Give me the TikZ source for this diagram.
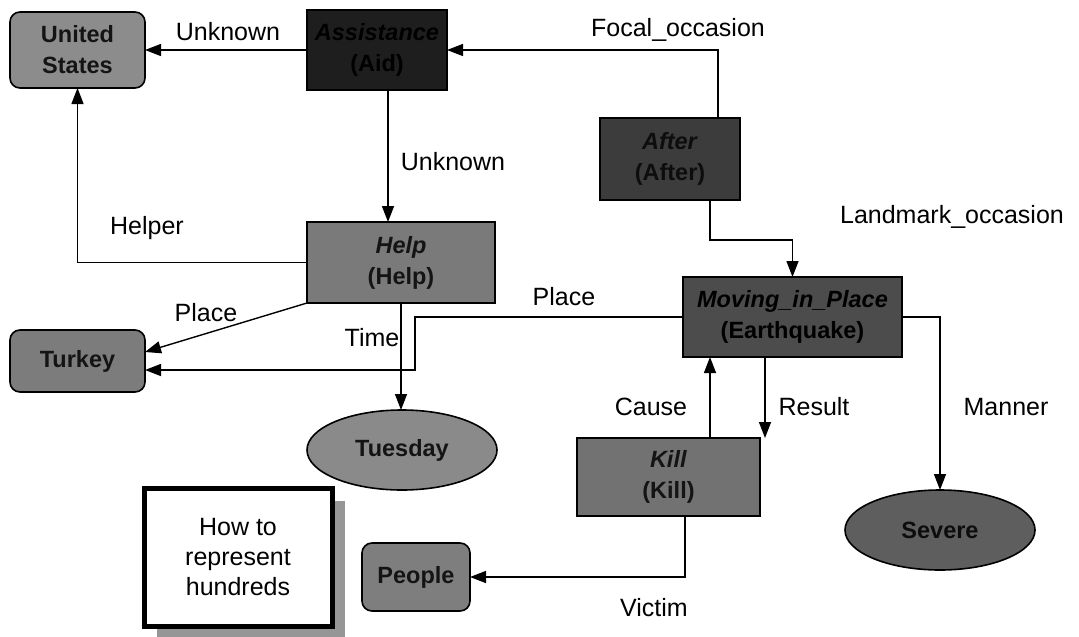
\documentclass[tikz,border=0pt]{standalone}
\usepackage{fontspec}
\setmainfont{Liberation Sans}
\usetikzlibrary{arrows.meta,shapes.geometric,shadows}
\newcommand\myboxfont{\fontsize{23.5}{31}\selectfont\bfseries}
\newcommand\mylblfont{\fontsize{25}{28}\selectfont}
\newcommand\mynotefont{\fontsize{25}{30}\selectfont}
\definecolor{cUS}{HTML}{8C8C8C}
\definecolor{cAssist}{HTML}{1E1E1E}
\definecolor{cAfter}{HTML}{3C3C3C}
\definecolor{cHelp}{HTML}{7A7A7A}
\definecolor{cMoving}{HTML}{4C4C4C}
\definecolor{cKill}{HTML}{727272}
\definecolor{cTurkey}{HTML}{7C7C7C}
\definecolor{cTues}{HTML}{8A8A8A}
\definecolor{cSevere}{HTML}{5E5E5E}
\definecolor{cPeople}{HTML}{7E7E7E}
\definecolor{cShadow}{HTML}{969696}
\tikzset{
  box/.style={draw=black, line width=1.6pt, inner sep=0pt, outer sep=0pt, align=center, font=\myboxfont},
  entity/.style={box, rounded corners=10pt},
  framebox/.style={box},
  valbox/.style={box, ellipse},
  lbl/.style={font=\mylblfont, inner sep=0pt, text=black},
  arr/.style={line width=1.4pt, -{Triangle[length=16pt,width=12pt]}},
}
\begin{document}
\begin{tikzpicture}[x=1pt,y=-1pt]
\useasboundingbox (0,0) rectangle (1079,637);

% nodes
\node[entity, fill=cUS, text=black!92, minimum width=135pt, minimum height=76pt] (us) at (77.5,50) {United\\States};
\node[framebox, fill=cAssist, text=black, minimum width=140pt, minimum height=80pt] (assist) at (377,50) {\textit{Assistance}\\(Aid)};
\node[framebox, fill=cAfter, text=black!95, minimum width=140pt, minimum height=82pt] (after) at (670,159) {\textit{After}\\(After)};
\node[framebox, fill=cHelp, text=black!92, minimum width=188pt, minimum height=81pt] (help) at (401,262.5) {\textit{Help}\\(Help)};
\node[entity, fill=cTurkey, text=black!92, minimum width=135pt, minimum height=62pt] (turkey) at (77.5,361) {Turkey};
\node[framebox, fill=cMoving, text=black, minimum width=219pt, minimum height=80pt] (moving) at (792.5,317) {\textit{Moving\_in\_Place}\\(Earthquake)};
\node[framebox, fill=cKill, text=black!92, minimum width=183pt, minimum height=78pt] (kill) at (668.5,477) {\textit{Kill}\\(Kill)};
\node[valbox, fill=cTues, text=black!92, minimum width=190pt, minimum height=80pt] (tuesday) at (402,450) {Tuesday};
\node[valbox, fill=cSevere, text=black!95, minimum width=190pt, minimum height=80pt] (severe) at (940,530) {Severe};
\node[entity, fill=cPeople, text=black!92, minimum width=108pt, minimum height=68pt] (people) at (416,577) {People};
\node[draw=black, line width=5pt, fill=white, inner sep=0pt, outer sep=0pt, align=center,
      font=\mynotefont, minimum width=188pt, minimum height=138pt,
      drop shadow={shadow xshift=13pt, shadow yshift=-13pt, fill=cShadow, opacity=1}] (note) at (238,557) {How to\\represent\\hundreds};

% connectors
\coordinate (placebend) at (415,370);
\draw[arr] (assist.west) -- (us.east);
\draw[arr] ([xshift=48pt]after.north) |- (assist.east);
\draw[arr] ([xshift=11pt]assist.south) -- ([xshift=11pt]assist.south |- help.north);
\draw[arr] (help.west) -| (us.south);
\draw[arr] (help.south west) -- ([yshift=9pt]turkey.east);
\draw[arr] (help.south) -- (help.south |- tuesday.north);
\draw[arr] (moving.west) -| (placebend) -- ([yshift=-9pt]turkey.east);
\draw[arr] ([xshift=40pt]after.south) -- ++(0,40) -| (moving.north);
\draw[arr] ([xshift=41.5pt]kill.north) -- ([xshift=41.5pt]kill.north |- moving.south);
\draw[arr] ([xshift=-27.5pt]moving.south) -- ([xshift=-27.5pt]moving.south |- kill.north);
\draw[arr] (moving.east) -| (severe.north);
\draw[arr] ([xshift=16.5pt]kill.south) |- (people.east);

% labels
\node[lbl] (l1) at (228,32) {Unknown};
\node[lbl] (l2) at (678,30) {Focal\_occasion};
\node[lbl] (l3) at (453,162) {Unknown};
\node[lbl] (l4) at (147,228) {Helper};
\node[lbl] (l5) at (952,217) {Landmark\_occasion};
\node[lbl] (l6) at (206,313) {Place};
\node[lbl] (l7) at (372,338) {Time};
\node[lbl] (l8) at (564,297) {Place};
\node[lbl] (l9) at (651,407) {Cause};
\node[lbl] (l10) at (814,407) {Result};
\node[lbl] (l11) at (1006,407) {Manner};
\node[lbl] (l12) at (654,608) {Victim};
\end{tikzpicture}
\end{document}
